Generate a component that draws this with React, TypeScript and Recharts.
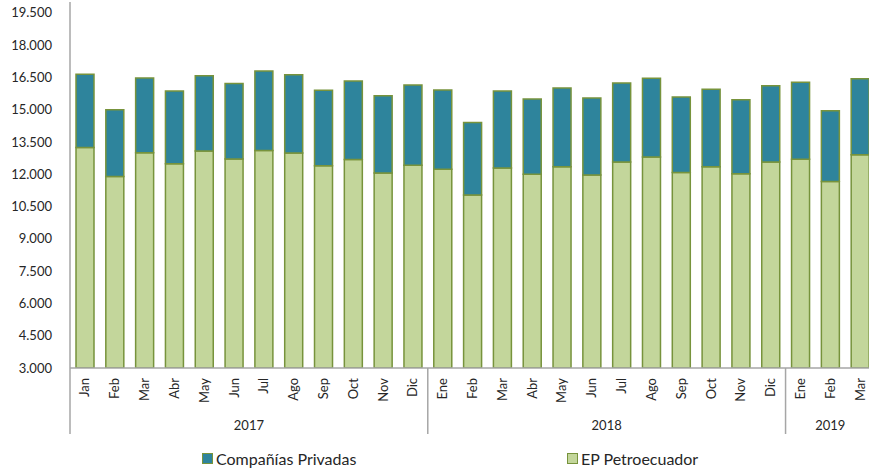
import React from "react";
import { BarChart, Bar, XAxis, YAxis, Legend } from "recharts";

const months = [
  "Jan", "Feb", "Mar", "Abr", "May", "Jun", "Jul", "Ago", "Sep", "Oct", "Nov", "Dic",
  "Ene", "Feb", "Mar", "Abr", "May", "Jun", "Jul", "Ago", "Sep", "Oct", "Nov", "Dic",
  "Ene", "Feb", "Mar",
];

const yearGroups = [
  { year: "2017", count: 12 },
  { year: "2018", count: 12 },
  { year: "2019", count: 3 },
];

// EP Petroecuador (bottom segment)
const petroecuador = [
  13240, 11890, 13000, 12490, 13080, 12710, 13100, 12990, 12390, 12680, 12060, 12420,
  12230, 11040, 12290, 12000, 12350, 11960, 12570, 12800, 12080, 12350, 12020, 12570,
  12700, 11660, 12910,
];

// total height of each bar (petroecuador + privadas)
const totals = [
  16640, 14990, 16470, 15870, 16580, 16220, 16800, 16620, 15900, 16330, 15650, 16150,
  15910, 14400, 15870, 15500, 16010, 15540, 16240, 16460, 15590, 15950, 15460, 16110,
  16270, 14950, 16440,
];

const yTicks = [3000, 4500, 6000, 7500, 9000, 10500, 12000, 13500, 15000, 16500, 18000, 19500];

const data = months.map((m, i) => ({
  month: m,
  petro: petroecuador[i],
  privadas: totals[i] - petroecuador[i],
}));

const CHART_W = 880;
const CHART_H = 471;
const MARGIN = { top: 2, right: 5, left: 0, bottom: 0 };
const YAXIS_W = 70;
const BAND = (CHART_W - MARGIN.left - MARGIN.right - YAXIS_W) / months.length;

const FONT = "Lato, 'Open Sans', sans-serif";
const AXIS_GRAY = "#a6a6a6";
const TEAL = "#2e849c";
const LIGHT_GREEN = "#c3d69b";
const OLIVE = "#77933c";

const fmt = (v: number) => String(v).replace(/\B(?=(\d{3})+(?!\d))/g, ".");

// group start index -> group
const groupStarts: Record<number, { year: string; count: number }> = {};
let acc = 0;
yearGroups.forEach((g) => {
  groupStarts[acc] = g;
  acc += g.count;
});

const MonthTick = (props: any) => {
  const { x, y, payload } = props;
  const i = payload.index;
  const ty = y + 10;
  const g = groupStarts[i];
  return (
    <g>
      <text
        x={x}
        y={ty}
        transform={`rotate(-90 ${x} ${ty})`}
        textAnchor="end"
        dy="0.35em"
        fontFamily={FONT}
        fontSize={13}
        fill="#262626"
      >
        {payload.value}
      </text>
      {g && (
        <>
          <line x1={x - BAND / 2} x2={x - BAND / 2} y1={y} y2={y + 66} stroke={AXIS_GRAY} strokeWidth={1.5} />
          <text
            x={x - BAND / 2 + (g.count * BAND) / 2}
            y={y + 62}
            textAnchor="middle"
            fontFamily={FONT}
            fontSize={13}
            fill="#262626"
          >
            {g.year}
          </text>
        </>
      )}
    </g>
  );
};

const LegendContent = () => (
  <div style={{ position: "relative", width: CHART_W, height: 37, fontFamily: FONT, fontSize: 16, color: "#262626" }}>
    {[
      { label: "Compañías Privadas", color: TEAL, left: 202 },
      { label: "EP Petroecuador", color: LIGHT_GREEN, left: 567 },
    ].map((it) => (
      <div key={it.label} style={{ position: "absolute", left: it.left, top: 15, display: "flex", alignItems: "center", whiteSpace: "nowrap" }}>
        <span
          style={{
            display: "inline-block",
            width: 11,
            height: 11,
            boxSizing: "border-box",
            background: it.color,
            border: `1.5px solid ${OLIVE}`,
            marginRight: 3,
          }}
        />
        <span>{it.label}</span>
      </div>
    ))}
  </div>
);

export default function App() {
  return (
    <div style={{ position: "absolute", left: 0, top: 0, width: 869, height: 471, overflow: "hidden", background: "#fff" }}>
      <BarChart width={CHART_W} height={CHART_H} data={data} margin={MARGIN} barSize={18}>
        <XAxis
          dataKey="month"
          height={66}
          interval={0}
          tick={<MonthTick />}
          tickLine={false}
          tickSize={0}
          tickMargin={0}
          axisLine={{ stroke: AXIS_GRAY, strokeWidth: 1.5 }}
        />
        <YAxis
          width={YAXIS_W}
          domain={[3000, 20000]}
          ticks={yTicks}
          allowDataOverflow
          interval={0}
          tickFormatter={fmt}
          tickLine={false}
          tickMargin={12}
          tick={{ fontFamily: FONT, fontSize: 13, fill: "#262626" }}
          axisLine={{ stroke: AXIS_GRAY, strokeWidth: 1.5 }}
        />
        <Legend verticalAlign="bottom" height={37} content={<LegendContent />} wrapperStyle={{ left: 0, width: CHART_W }} />
        <Bar dataKey="petro" name="EP Petroecuador" stackId="a" fill={LIGHT_GREEN} stroke={OLIVE} strokeWidth={1.5} isAnimationActive={false} />
        <Bar dataKey="privadas" name="Compañías Privadas" stackId="a" fill={TEAL} stroke={OLIVE} strokeWidth={1.5} isAnimationActive={false} />
      </BarChart>
    </div>
  );
}
